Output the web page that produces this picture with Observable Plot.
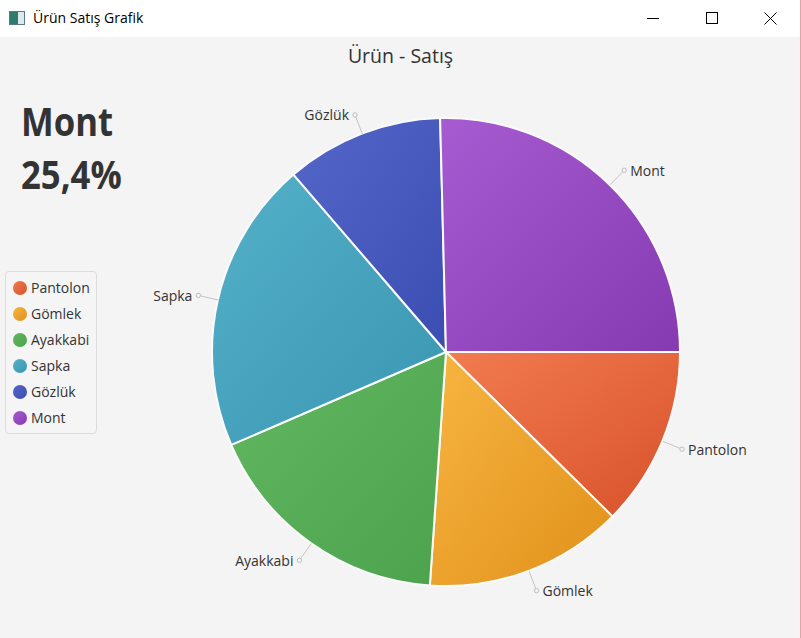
<!DOCTYPE html>
<html>
<head>
<meta charset="utf-8">
<script src="https://cdn.jsdelivr.net/npm/d3@7"></script>
<script src="https://cdn.jsdelivr.net/npm/@observablehq/plot@0.6"></script>
<style>
  html, body { margin: 0; padding: 0; background: #f4f4f4; }
  #win { position: relative; width: 801px; height: 638px; background: #f4f4f4; overflow: hidden;
         font-family: "Segoe UI", "Open Sans", "Noto Sans", sans-serif; color: #333; }
  #titlebar { position: absolute; left: 0; top: 0; width: 801px; height: 37px; background: #fff; }
  #titlebar .txt { position: absolute; left: 33px; top: 8px; font-size: 14px; color: #000; white-space: nowrap; }
  #icon { position: absolute; left: 9px; top: 11px; width: 14px; height: 12px; border: 1px solid #5a7a8a;
          background: linear-gradient(to right, #2e7d6a 0 55%, #dfe8ee 55% 100%); }
  .ctl { position: absolute; }
  #min { left: 647px; top: 18px; width: 12px; height: 1px; background: #000; }
  #max { left: 706px; top: 12px; width: 10px; height: 10px; border: 1px solid #000; }
  #rborder { position: absolute; left: 800px; top: 0; width: 1px; height: 638px; background: #e6a3a3; }
  #charttitle { position: absolute; left: 0; width: 801px; top: 42px; text-align: center; font-size: 19.5px; color: #333; }
  .big { position: absolute; left: 21px; font-size: 39px; font-weight: bold; color: #333; line-height: 1; white-space: nowrap;
         transform: scaleX(0.89); transform-origin: left top; }
  #legend { position: absolute; left: 5px; top: 271px; width: 90px; height: 161px; border: 1px solid #dcdcdc;
            border-radius: 4px; background: #f5f5f5; }
  .li { position: absolute; left: 0; height: 20px; font-size: 14px; color: #333; white-space: nowrap; }
  .li .sw { position: absolute; left: 7px; top: 3px; width: 14px; height: 14px; border-radius: 50%; }
  .li .lt { position: absolute; left: 25px; top: 0px; line-height: 20px; }
  #plot { position: absolute; left: 0; top: 37px; }
</style>
</head>
<body>
<div id="win">
  <div id="titlebar">
    <div id="icon"></div>
    <div class="txt">Ürün Satış Grafik</div>
    <div id="min" class="ctl"></div>
    <div id="max" class="ctl"></div>
    <svg class="ctl" style="left:764px;top:12px" width="13" height="13"><path d="M0.5,0.5L12.5,12.5M12.5,0.5L0.5,12.5" stroke="#000" stroke-width="1"/></svg>
  </div>
  <div id="rborder"></div>
  <div id="charttitle">Ürün - Satış</div>
  <div class="big" style="top:101px">Mont</div>
  <div class="big" style="top:154px">25,4%</div>
  <div id="legend"></div>
  <div id="plot"></div>
</div>
<script>
// ---- data ----
const categories = ["Pantolon", "Gömlek", "Ayakkabi", "Sapka", "Gözlük", "Mont"];
const values = [12.4, 13.7, 17.4, 20.2, 10.9, 25.4];
const baseColors = ["#f3622d", "#fba71b", "#57b757", "#41a9c9", "#4258c9", "#9a42c8"];
const lightColors = ["#f27b50", "#f8b542", "#61b861", "#54b1c9", "#5467c9", "#a75bd1"];
const darkColors = ["#d8522a", "#e0911a", "#4da34d", "#3a95b1", "#3b4db1", "#863ab1"];

const data = categories.map((c, i) => ({category: c, value: values[i], i}));

// pie layout, starting at 3 o'clock, clockwise (JavaFX default)
const pie = d3.pie().value(d => d.value).sort(null).startAngle(Math.PI / 2).endAngle(Math.PI / 2 + 2 * Math.PI);
const arcs = pie(data);
const labelR = 1.088;
const labels = arcs.map(a => {
  const m = (a.startAngle + a.endAngle) / 2;
  return {
    category: a.data.category,
    x1: Math.sin(m), y1: -Math.cos(m),
    x2: labelR * Math.sin(m), y2: -labelR * Math.cos(m),
    right: Math.sin(m) >= 0
  };
});

// geometry of plot frame
const W = 801, H = 601, cx = 446, cy = 315, R = 234;

function slices(index, scales) {
  const g = d3.create("svg:g");
  const x0 = scales.x(0), y0 = scales.y(0);
  const r = scales.x(1) - scales.x(0);
  const defs = g.append("defs");
  arcs.forEach((a, k) => {
    const lg = defs.append("linearGradient").attr("id", "grad" + k)
      .attr("x1", 0).attr("y1", 0).attr("x2", 1).attr("y2", 1);
    lg.append("stop").attr("offset", "0%").attr("stop-color", lightColors[k]);
    lg.append("stop").attr("offset", "100%").attr("stop-color", darkColors[k]);
  });
  const arc = d3.arc().innerRadius(0).outerRadius(r);
  g.append("g").attr("transform", `translate(${x0},${y0})`)
    .selectAll("path").data(arcs).join("path")
    .attr("d", arc)
    .attr("fill", (d, k) => `url(#grad${k})`)
    .attr("stroke", "#fafafa")
    .attr("stroke-width", 2)
    .attr("stroke-linejoin", "round");
  return g.node();
}

const chart = Plot.plot({
  width: W, height: H,
  marginLeft: cx - R, marginRight: W - (cx + R),
  marginTop: cy - R, marginBottom: H - (cy + R),
  x: {domain: [-1, 1], axis: null},
  y: {domain: [-1, 1], reverse: true, axis: null},
  style: {background: "transparent", fontFamily: "'Segoe UI', 'Open Sans', 'Noto Sans', sans-serif", overflow: "visible"},
  marks: [
    slices,
    Plot.link(labels, {x1: "x1", y1: "y1", x2: "x2", y2: "y2", stroke: "#c4c4c4", strokeWidth: 1}),
    Plot.dot(labels, {x: "x2", y: "y2", r: 2.2, fill: "#f4f4f4", stroke: "#bdbdbd", strokeWidth: 1}),
    Plot.text(labels.filter(d => d.right), {x: "x2", y: "y2", text: "category", textAnchor: "start", dx: 6, dy: 1, fontSize: 14, fill: "#333"}),
    Plot.text(labels.filter(d => !d.right), {x: "x2", y: "y2", text: "category", textAnchor: "end", dx: -6, dy: 1, fontSize: 14, fill: "#333"})
  ]
});
document.getElementById("plot").appendChild(chart);

// legend
const legend = d3.select("#legend");
categories.forEach((c, k) => {
  const item = legend.append("div").attr("class", "li").style("top", (6 + 26 * k) + "px");
  item.append("div").attr("class", "sw")
    .style("background", `linear-gradient(135deg, ${lightColors[k]}, ${darkColors[k]})`);
  item.append("div").attr("class", "lt").text(c);
});
</script>
</body>
</html>
